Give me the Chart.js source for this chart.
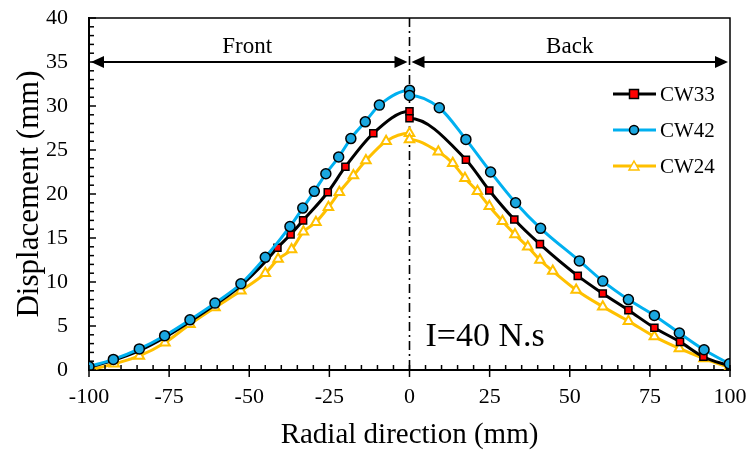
<!DOCTYPE html>
<html>
<head>
<meta charset="utf-8">
<script src="https://cdn.jsdelivr.net/npm/chart.js@4.4.0/dist/chart.umd.min.js"></script>
<style>
  html, body { margin: 0; padding: 0; background: #fff; }
  #wrap { width: 748px; height: 450px; }
</style>
</head>
<body>
<div id="wrap"><canvas id="dispChart" width="748" height="450"></canvas></div>
<script>
// values
const cw33X = [-100, -92.4, -84.3, -76.4, -68.5, -60.7, -52.6, -45, -41.2, -37.1, -33.2, -25.5, -20, -11.3, 0, 0, 17.6, 24.9, 32.7, 40.7, 52.5, 60.3, 68.3, 76.4, 84.4, 91.7, 100];
const cw33Y = [0.3, 1.1, 2.2, 3.7, 5.5, 7.4, 9.6, 12.3, 13.9, 15.4, 17.0, 20.2, 23.1, 26.9, 29.4, 28.6, 23.9, 20.4, 17.1, 14.3, 10.7, 8.7, 6.8, 4.8, 3.2, 1.5, 0.45];

const cw42X = [-100, -92.4, -84.3, -76.4, -68.5, -60.7, -52.6, -45, -37.3, -33.3, -29.7, -26.1, -22.1, -18.3, -13.8, -9.4, 0, 0, 9.3, 17.6, 25.3, 33.1, 40.9, 53, 60.3, 68.3, 76.4, 84.2, 91.9, 99.8];
const cw42Y = [0.4, 1.2, 2.4, 3.9, 5.7, 7.6, 9.8, 12.8, 16.3, 18.4, 20.3, 22.3, 24.2, 26.3, 28.2, 30.1, 31.8, 31.2, 29.8, 26.2, 22.5, 19.0, 16.1, 12.4, 10.1, 8.0, 6.2, 4.2, 2.3, 0.7];

const cw24X = [-100, -92.1, -84.3, -76.3, -68.5, -60.7, -52.6, -45, -41, -36.8, -33.1, -29.2, -25.3, -21.9, -17.5, -13.6, -7.3, 0, 0, 9, 13.5, 17.3, 21.2, 24.9, 29, 32.9, 36.9, 40.7, 44.7, 52, 60.3, 68.3, 76.4, 84.2, 91.9, 99.8];
const cw24Y = [0, 0.7, 1.6, 3.1, 5.2, 7.1, 9.0, 11.0, 12.6, 13.7, 15.7, 16.8, 18.5, 20.2, 22.1, 23.8, 26.0, 26.9, 26.2, 24.8, 23.5, 21.8, 20.3, 18.6, 16.9, 15.4, 14.0, 12.5, 11.25, 9.1, 7.2, 5.55, 3.8, 2.45, 1.3, 0.3];

const xTicks = [-100, -75, -50, -25, 0, 25, 50, 75, 100];
const yTicks = [0, 5, 10, 15, 20, 25, 30, 35, 40];

const FONT = "'Liberation Serif', 'Times New Roman', serif";

function pts(xs, ys) {
  return xs.map((x, i) => ({ x: x, y: ys[i] }));
}

// ticks, frame, arrows, labels and legend drawn on the canvas
const decor = {
  id: 'decor',
  beforeDatasetsDraw(chart) {
    const { ctx, chartArea: a, scales: { x } } = chart;
    const x0 = x.getPixelForValue(0);
    ctx.save();
    ctx.strokeStyle = '#000';
    ctx.lineWidth = 1.6;
    ctx.setLineDash([9, 4, 2, 4]);
    ctx.beginPath();
    ctx.moveTo(x0, a.top);
    ctx.lineTo(x0, a.bottom);
    ctx.stroke();
    ctx.restore();
  },
  afterDraw(chart) {
    const { ctx, chartArea: a, scales: { x, y } } = chart;
    ctx.save();
    ctx.strokeStyle = '#000';

    // frame top + right
    ctx.lineWidth = 1.5;
    ctx.beginPath();
    ctx.moveTo(a.left, a.top);
    ctx.lineTo(a.right, a.top);
    ctx.lineTo(a.right, a.bottom);
    ctx.stroke();

    // x ticks
    ctx.lineWidth = 1.5;
    for (let v = -100; v <= 100; v += 5) {
      const px = x.getPixelForValue(v);
      ctx.beginPath();
      if (v % 25 === 0) {
        ctx.moveTo(px, a.bottom - 5);
        ctx.lineTo(px, a.bottom + 7);
      } else {
        ctx.moveTo(px, a.bottom - 5);
        ctx.lineTo(px, a.bottom);
      }
      ctx.stroke();
    }
    // y ticks
    for (let v = 0; v <= 40; v += 1) {
      const py = y.getPixelForValue(v);
      ctx.beginPath();
      ctx.moveTo(a.left, py);
      ctx.lineTo(a.left + (v % 5 === 0 ? 7 : 5), py);
      ctx.stroke();
    }

    // front / back arrows
    const ay = y.getPixelForValue(35);
    const xl = x.getPixelForValue(-100), xm = x.getPixelForValue(0), xr = x.getPixelForValue(100);
    function arrow(x1, x2) {
      const head = 13, half = 6;
      ctx.lineWidth = 2;
      ctx.beginPath();
      ctx.moveTo(x1 + head, ay);
      ctx.lineTo(x2 - head, ay);
      ctx.stroke();
      ctx.fillStyle = '#000';
      ctx.beginPath();
      ctx.moveTo(x1 + 2, ay); ctx.lineTo(x1 + 2 + head, ay - half); ctx.lineTo(x1 + 2 + head, ay + half);
      ctx.closePath(); ctx.fill();
      ctx.beginPath();
      ctx.moveTo(x2 - 2, ay); ctx.lineTo(x2 - 2 - head, ay - half); ctx.lineTo(x2 - 2 - head, ay + half);
      ctx.closePath(); ctx.fill();
    }
    arrow(xl, xm);
    arrow(xm, xr);

    ctx.fillStyle = '#000';
    ctx.font = '23px ' + FONT;
    ctx.textAlign = 'center';
    ctx.textBaseline = 'alphabetic';
    ctx.fillText('Front', (xl + xm) / 2 - 2, ay - 9);
    ctx.fillText('Back', (xm + xr) / 2, ay - 9);

    ctx.font = '34px ' + FONT;
    ctx.textAlign = 'left';
    ctx.fillText('I=40 N.s', xm + 16, 346);

    // legend: line + marker + label
    const rows = [94, 130, 166];
    chart.data.datasets.forEach((ds, i) => {
      const ly = rows[i];
      ctx.strokeStyle = ds.borderColor;
      ctx.lineWidth = 3;
      ctx.beginPath();
      ctx.moveTo(613, ly);
      ctx.lineTo(656, ly);
      ctx.stroke();
      ctx.fillStyle = ds.pointBackgroundColor;
      ctx.strokeStyle = ds.pointBorderColor;
      ctx.lineWidth = 1.5;
      ctx.beginPath();
      if (ds.pointStyle === 'rect') {
        ctx.rect(629.5, ly - 4.5, 9, 9);
      } else if (ds.pointStyle === 'circle') {
        ctx.arc(634, ly, 4.5, 0, Math.PI * 2);
      } else {
        ctx.moveTo(634, ly - 5); ctx.lineTo(639, ly + 4); ctx.lineTo(629, ly + 4); ctx.closePath();
      }
      ctx.fill();
      ctx.stroke();
      ctx.fillStyle = '#000';
      ctx.font = '21px ' + FONT;
      ctx.textAlign = 'left';
      ctx.textBaseline = 'middle';
      ctx.fillText(ds.label, 660, ly + 1);
    });
    ctx.restore();
  }
};

const ctx = document.getElementById('dispChart');
new Chart(ctx, {
  type: 'line',
  data: {
    datasets: [
      {
        label: 'CW33',
        data: pts(cw33X, cw33Y),
        borderColor: '#000000',
        borderWidth: 3,
        pointStyle: 'rect',
        pointRadius: c => (c.raw && c.raw.x < -42 ? 0 : 5),
        pointBackgroundColor: '#FF0000',
        pointBorderColor: '#000000',
        pointBorderWidth: 1.5,
        cubicInterpolationMode: 'monotone',
        order: 2
      },
      {
        label: 'CW42',
        data: pts(cw42X, cw42Y),
        borderColor: '#00B0F0',
        borderWidth: 3,
        pointStyle: 'circle',
        pointRadius: 5,
        pointBackgroundColor: '#1AA7E0',
        pointBorderColor: '#000000',
        pointBorderWidth: 1.5,
        cubicInterpolationMode: 'monotone',
        order: 1
      },
      {
        label: 'CW24',
        data: pts(cw24X, cw24Y),
        borderColor: '#FFC000',
        borderWidth: 3,
        pointStyle: 'triangle',
        pointRadius: 5.5,
        pointBackgroundColor: '#FFFFFF',
        pointBorderColor: '#FFC000',
        pointBorderWidth: 2,
        cubicInterpolationMode: 'monotone',
        order: 3
      }
    ]
  },
  options: {
    responsive: false,
    animation: false,
    layout: { padding: { top: 18, right: 18, left: 0, bottom: 0 } },
    plugins: { legend: { display: false }, tooltip: { enabled: false } },
    scales: {
      x: {
        type: 'linear',
        min: -100,
        max: 100,
        afterBuildTicks: s => { s.ticks = xTicks.map(v => ({ value: v })); },
        afterFit: s => { s.height = 80; s.paddingLeft = 0; s.paddingRight = 0; },
        grid: { display: false },
        border: { display: true, color: '#000', width: 2 },
        ticks: { color: '#000', font: { family: FONT, size: 22 }, padding: 6, maxRotation: 0 },
        title: { display: true, text: 'Radial direction (mm)', color: '#000', font: { family: FONT, size: 29, lineHeight: 1 }, padding: { top: 0, bottom: 0 } }
      },
      y: {
        min: 0,
        max: 40,
        afterBuildTicks: s => { s.ticks = yTicks.map(v => ({ value: v })); },
        afterFit: s => { s.width = 89; s.paddingTop = 0; s.paddingBottom = 0; },
        grid: { display: false },
        border: { display: true, color: '#000', width: 2 },
        ticks: { color: '#000', font: { family: FONT, size: 22 }, padding: 13 },
        title: { display: true, text: 'Displacement (mm)', color: '#000', font: { family: FONT, size: 31 }, padding: { top: 11, bottom: 0 } }
      }
    }
  },
  plugins: [decor]
});
</script>
</body>
</html>
